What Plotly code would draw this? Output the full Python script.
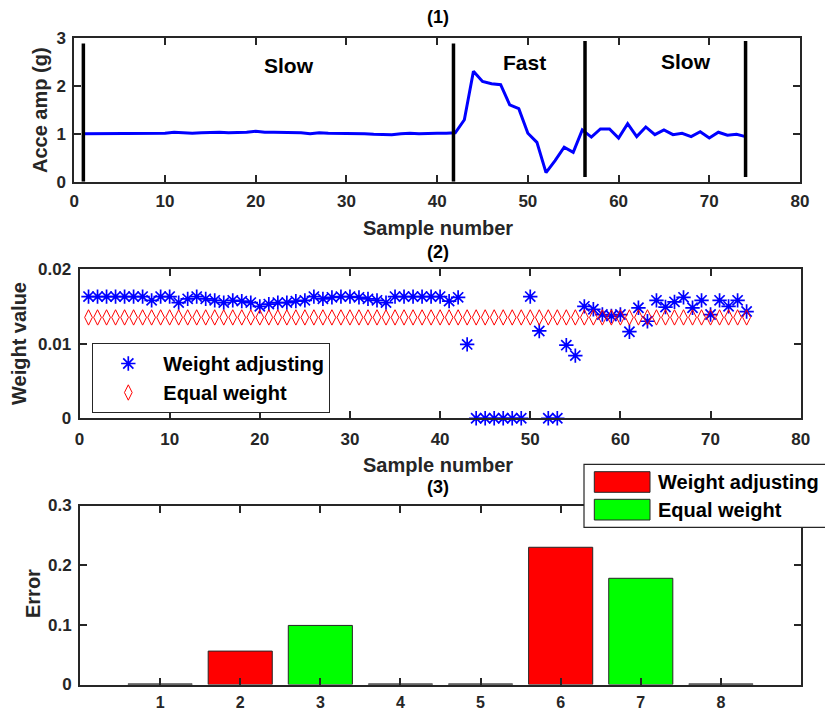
import plotly.graph_objects as go

# ---------------- data ----------------
# Panel (1): acceleration amplitude per sample
samples = list(range(1, 75))
acce_amp = [1.00, 1.00, 1.00, 1.01, 1.01, 1.01, 1.00, 1.01, 1.00, 1.01,
            1.03, 1.02, 1.01, 1.02, 1.03, 1.03, 1.02, 1.02, 1.03, 1.05,
            1.03, 1.03, 1.03, 1.02, 1.02, 1.00, 1.02, 1.01, 1.01, 1.01,
            1.00, 1.00, 0.99, 0.98, 0.98, 1.00, 1.01, 1.00, 1.01, 1.01,
            1.01, 1.02, 1.29, 2.30, 2.09, 2.04, 2.02, 1.60, 1.52, 1.01,
            0.82, 0.19, 0.44, 0.72, 0.61, 1.08, 0.93, 1.10, 1.10, 0.91,
            1.21, 0.94, 1.14, 0.98, 1.08, 0.98, 1.01, 0.94, 1.04, 0.91,
            1.03, 0.97, 0.99, 0.94]
boundary_x = [1, 41.8, 56.3, 74]
boundary_low = [0, 0, 0.1, 0.1]
boundary_high = [2.88, 2.88, 2.93, 2.93]
phase_labels = ["Slow", "Fast", "Slow"]
phase_x = [23.7, 49.6, 67.4]
phase_y = [2.42, 2.49, 2.50]

# Panel (2): weights per sample
weight_adjusting = [0.0163, 0.0163, 0.0163, 0.0163, 0.0163, 0.0163, 0.0163, 0.0158, 0.0163, 0.0163,
                    0.0155, 0.0160, 0.0163, 0.0160, 0.0158, 0.0155, 0.0158, 0.0157, 0.0155, 0.0150,
                    0.0153, 0.0155, 0.0155, 0.0157, 0.0158, 0.0163, 0.0160, 0.0162, 0.0163, 0.0163,
                    0.0162, 0.0160, 0.0158, 0.0155, 0.0163, 0.0163, 0.0163, 0.0163, 0.0163, 0.0163,
                    0.0157, 0.0162, 0.0099, 0.0, 0.0, 0.0, 0.0, 0.0, 0.0, 0.0163,
                    0.0117, 0.0, 0.0, 0.0098, 0.0084, 0.0150, 0.0146, 0.0139, 0.0137, 0.0139,
                    0.0116, 0.0148, 0.0130, 0.0158, 0.0149, 0.0156, 0.0162, 0.0148, 0.0158, 0.0139,
                    0.0158, 0.0150, 0.0158, 0.0143]
equal_weight = [1 / 74] * 74

# Panel (3): error per case (cases 1,4,5,8 read as ~0)
cases = [1, 2, 3, 4, 5, 6, 7, 8]
errors = [0.001, 0.056, 0.099, 0.001, 0.001, 0.230, 0.178, 0.001]
case_method = ["", "Weight adjusting", "Equal weight", "", "", "Weight adjusting", "Equal weight", ""]
legend_methods = ["Weight adjusting", "Equal weight"]

# ---------------- styling ----------------
W, H = 825, 713
FONT = "Liberation Sans, Arial, sans-serif"
AX = "#262626"
BLUE, RED, GREEN = "#0000FF", "#FF0000", "#00FF00"
method_color = {"Weight adjusting": RED, "Equal weight": GREEN, "": AX}


def px_x(p):
    return p / W


def px_y(p):
    return 1 - p / H


fig = go.Figure()

# Panel 1
fig.add_trace(go.Scatter(x=samples, y=acce_amp, mode="lines",
                         line=dict(color=BLUE, width=3), showlegend=False,
                         xaxis="x", yaxis="y"))
bx, by = [], []
for xv, lo, hi in zip(boundary_x, boundary_low, boundary_high):
    bx += [xv, xv, None]
    by += [lo, hi, None]
fig.add_trace(go.Scatter(x=bx, y=by, mode="lines", line=dict(color="black", width=3.5),
                         showlegend=False, xaxis="x", yaxis="y"))

# Panel 2
fig.add_trace(go.Scatter(x=samples, y=weight_adjusting, mode="markers", name="Weight adjusting",
                         marker=dict(symbol="asterisk-open", size=12, color=BLUE,
                                     line=dict(color=BLUE, width=1.7)),
                         cliponaxis=False, xaxis="x2", yaxis="y2", legend="legend"))
fig.add_trace(go.Scatter(x=samples, y=equal_weight, mode="markers", name="Equal weight",
                         marker=dict(symbol="diamond-tall-open", size=11, color=RED,
                                     line=dict(color=RED, width=1)),
                         xaxis="x2", yaxis="y2", legend="legend"))

# Panel 3
fig.add_trace(go.Bar(x=cases, y=errors, width=0.8,
                     marker=dict(color=[method_color[m] for m in case_method],
                                 line=dict(color=AX, width=1)),
                     showlegend=False, xaxis="x3", yaxis="y3"))

tickfont = dict(family=FONT, size=17, color=AX, weight="bold")
common_axis = dict(showline=True, linecolor=AX, linewidth=2, mirror="ticks",
                   ticks="inside", ticklen=7, tickwidth=2, tickcolor=AX,
                   showgrid=False, zeroline=False, automargin=False)

fig.update_layout(
    width=W, height=H, autosize=False,
    margin=dict(l=0, r=0, t=0, b=0, autoexpand=False),
    paper_bgcolor="white", plot_bgcolor="white",
    xaxis=dict(domain=[px_x(74.3), px_x(800)], range=[0, 80], tickvals=list(range(0, 81, 10)),
               anchor="y", ticklabelstandoff=3, tickfont=tickfont, **common_axis),
    yaxis=dict(domain=[px_y(181.7), px_y(37.7)], range=[0, 3], tickvals=[0, 1, 2, 3],
               anchor="x", ticklabelstandoff=3, tickfont=tickfont, **common_axis),
    xaxis2=dict(domain=[px_x(79.5), px_x(800.7)], range=[0, 80], tickvals=list(range(0, 81, 10)),
                anchor="y2", ticklabelstandoff=4, tickfont=tickfont, **common_axis),
    yaxis2=dict(domain=[px_y(418.3), px_y(269)], range=[0, 0.02], tickvals=[0, 0.01, 0.02],
                ticktext=["0", "0.01", "0.02"], anchor="x2", ticklabelstandoff=3,
                tickfont=tickfont, **common_axis),
    xaxis3=dict(domain=[px_x(80), px_x(801)], range=[0, 9], tickvals=cases,
                anchor="y3", ticklabelstandoff=2, tickfont=dict(tickfont, size=16), **common_axis),
    yaxis3=dict(domain=[px_y(684.5), px_y(505.5)], range=[0, 0.3], tickvals=[0, 0.1, 0.2, 0.3],
                ticktext=["0", "0.1", "0.2", "0.3"], anchor="x3", ticklabelstandoff=3,
                tickfont=tickfont, **common_axis),
    legend=dict(x=px_x(92.3), y=px_y(343), xanchor="left", yanchor="top",
                bgcolor="white", bordercolor=AX, borderwidth=1, itemwidth=60,
                font=dict(family=FONT, size=20, color="black", weight="bold"),
                tracegroupgap=0),
)

annotations = []
title_font = dict(family=FONT, size=18, color="black", weight="bold")
axis_title_font = dict(family=FONT, size=20, color=AX, weight="bold")
for txt, yp in [("(1)", 17), ("(2)", 252), ("(3)", 487)]:
    annotations.append(dict(text=txt, x=px_x(438), y=px_y(yp), xref="paper", yref="paper",
                            showarrow=False, font=title_font, xanchor="center", yanchor="middle"))
for yp in [228, 465]:
    annotations.append(dict(text="Sample number", x=px_x(438), y=px_y(yp), xref="paper", yref="paper",
                            showarrow=False, font=axis_title_font, xanchor="center", yanchor="middle"))
for txt, xp, yp in [("Acce amp (g)", 40, 110), ("Weight value", 19, 344), ("Error", 33, 594)]:
    annotations.append(dict(text=txt, x=px_x(xp), y=px_y(yp), xref="paper", yref="paper",
                            showarrow=False, font=axis_title_font, textangle=-90,
                            xanchor="center", yanchor="middle"))
for txt, xv, yv in zip(phase_labels, phase_x, phase_y):
    annotations.append(dict(text=txt, x=xv, y=yv, xref="x", yref="y", showarrow=False,
                            font=dict(family=FONT, size=21, color="black", weight="bold")))

# Custom legend for panel (3)
shapes = [dict(type="rect", xref="paper", yref="paper", x0=px_x(584), x1=px_x(828),
               y0=px_y(527.3), y1=px_y(464.3), fillcolor="white",
               line=dict(color=AX, width=1.2), layer="above")]
sw_rows = [(471.7, 492.3), (499.3, 520)]
for m, (t, b) in zip(legend_methods, sw_rows):
    shapes.append(dict(type="rect", xref="paper", yref="paper", x0=px_x(594.3), x1=px_x(650),
                       y0=px_y(b), y1=px_y(t), fillcolor=method_color[m],
                       line=dict(color=AX, width=1), layer="above"))
    annotations.append(dict(text=m, x=px_x(656), y=px_y((t + b) / 2), xref="paper", yref="paper",
                            showarrow=False, xanchor="left", yanchor="middle",
                            font=dict(family=FONT, size=20, color="black", weight="bold")))

fig.update_layout(annotations=annotations, shapes=shapes)
fig.write_html("out.html")
